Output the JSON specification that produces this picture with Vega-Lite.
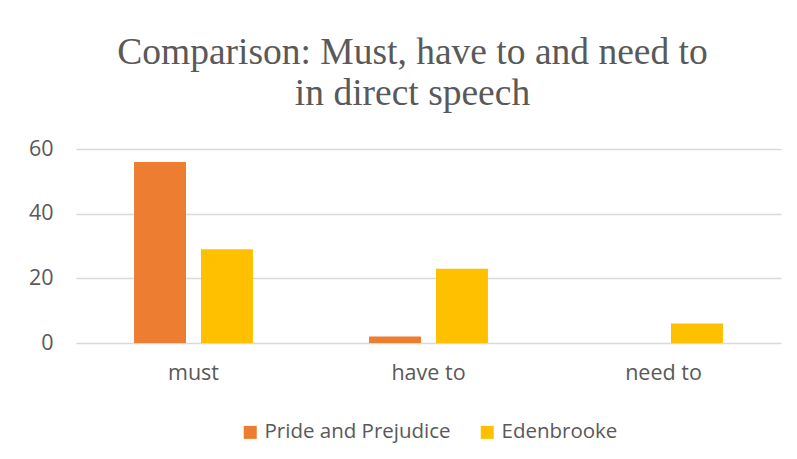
{
  "$schema": "https://vega.github.io/schema/vega-lite/v6.json",
  "width": 705,
  "height": 194,
  "autosize": {"type": "none"},
  "padding": {"left": 76, "top": 149, "right": 16, "bottom": 116},
  "background": "white",
  "title": {
    "text": ["Comparison: Must, have to and need to", "in direct speech"],
    "font": "Liberation Serif",
    "fontSize": 37.5,
    "fontWeight": "normal",
    "color": "#595959",
    "lineHeight": 41,
    "anchor": "middle",
    "dx": -16,
    "offset": 26
  },
  "data": {
    "values": [
      {"modal": "must", "novel": "Pride and Prejudice", "count": 56},
      {"modal": "must", "novel": "Edenbrooke", "count": 29},
      {"modal": "have to", "novel": "Pride and Prejudice", "count": 2},
      {"modal": "have to", "novel": "Edenbrooke", "count": 23},
      {"modal": "need to", "novel": "Pride and Prejudice", "count": 0},
      {"modal": "need to", "novel": "Edenbrooke", "count": 6}
    ]
  },
  "mark": {"type": "bar"},
  "encoding": {
    "x": {
      "field": "modal",
      "type": "nominal",
      "sort": ["must", "have to", "need to"],
      "scale": {"paddingInner": 0.494, "paddingOuter": 0.247},
      "axis": {
        "title": null,
        "labelAngle": 0,
        "domain": false,
        "ticks": false,
        "labelFont": "Open Sans",
        "labelFontSize": 21.5,
        "labelColor": "#595959",
        "labelPadding": 19
      }
    },
    "xOffset": {
      "field": "novel",
      "type": "nominal",
      "sort": ["Pride and Prejudice", "Edenbrooke"],
      "scale": {"paddingInner": 0.224, "paddingOuter": 0}
    },
    "y": {
      "field": "count",
      "type": "quantitative",
      "scale": {"domain": [0, 60], "nice": false},
      "axis": {
        "title": null,
        "values": [0, 20, 40, 60],
        "domain": false,
        "ticks": false,
        "gridColor": "#d9d9d9",
        "gridWidth": 1.5,
        "labelFont": "Open Sans",
        "labelFontSize": 21.5,
        "labelColor": "#595959",
        "labelPadding": 23
      }
    },
    "color": {
      "field": "novel",
      "type": "nominal",
      "sort": ["Pride and Prejudice", "Edenbrooke"],
      "scale": {"domain": ["Pride and Prejudice", "Edenbrooke"], "range": ["#ED7D31", "#FFC000"]},
      "legend": {
        "title": null,
        "orient": "bottom",
        "direction": "horizontal",
        "symbolType": "square",
        "symbolSize": 169,
        "symbolStrokeWidth": 0,
        "labelFont": "Open Sans",
        "labelFontSize": 20.5,
        "labelColor": "#595959",
        "labelLimit": 400,
        "columnPadding": 26,
        "offset": 38
      }
    }
  },
  "config": {
    "view": {"stroke": null},
    "legend": {"layout": {"bottom": {"anchor": "middle"}}}
  }
}
